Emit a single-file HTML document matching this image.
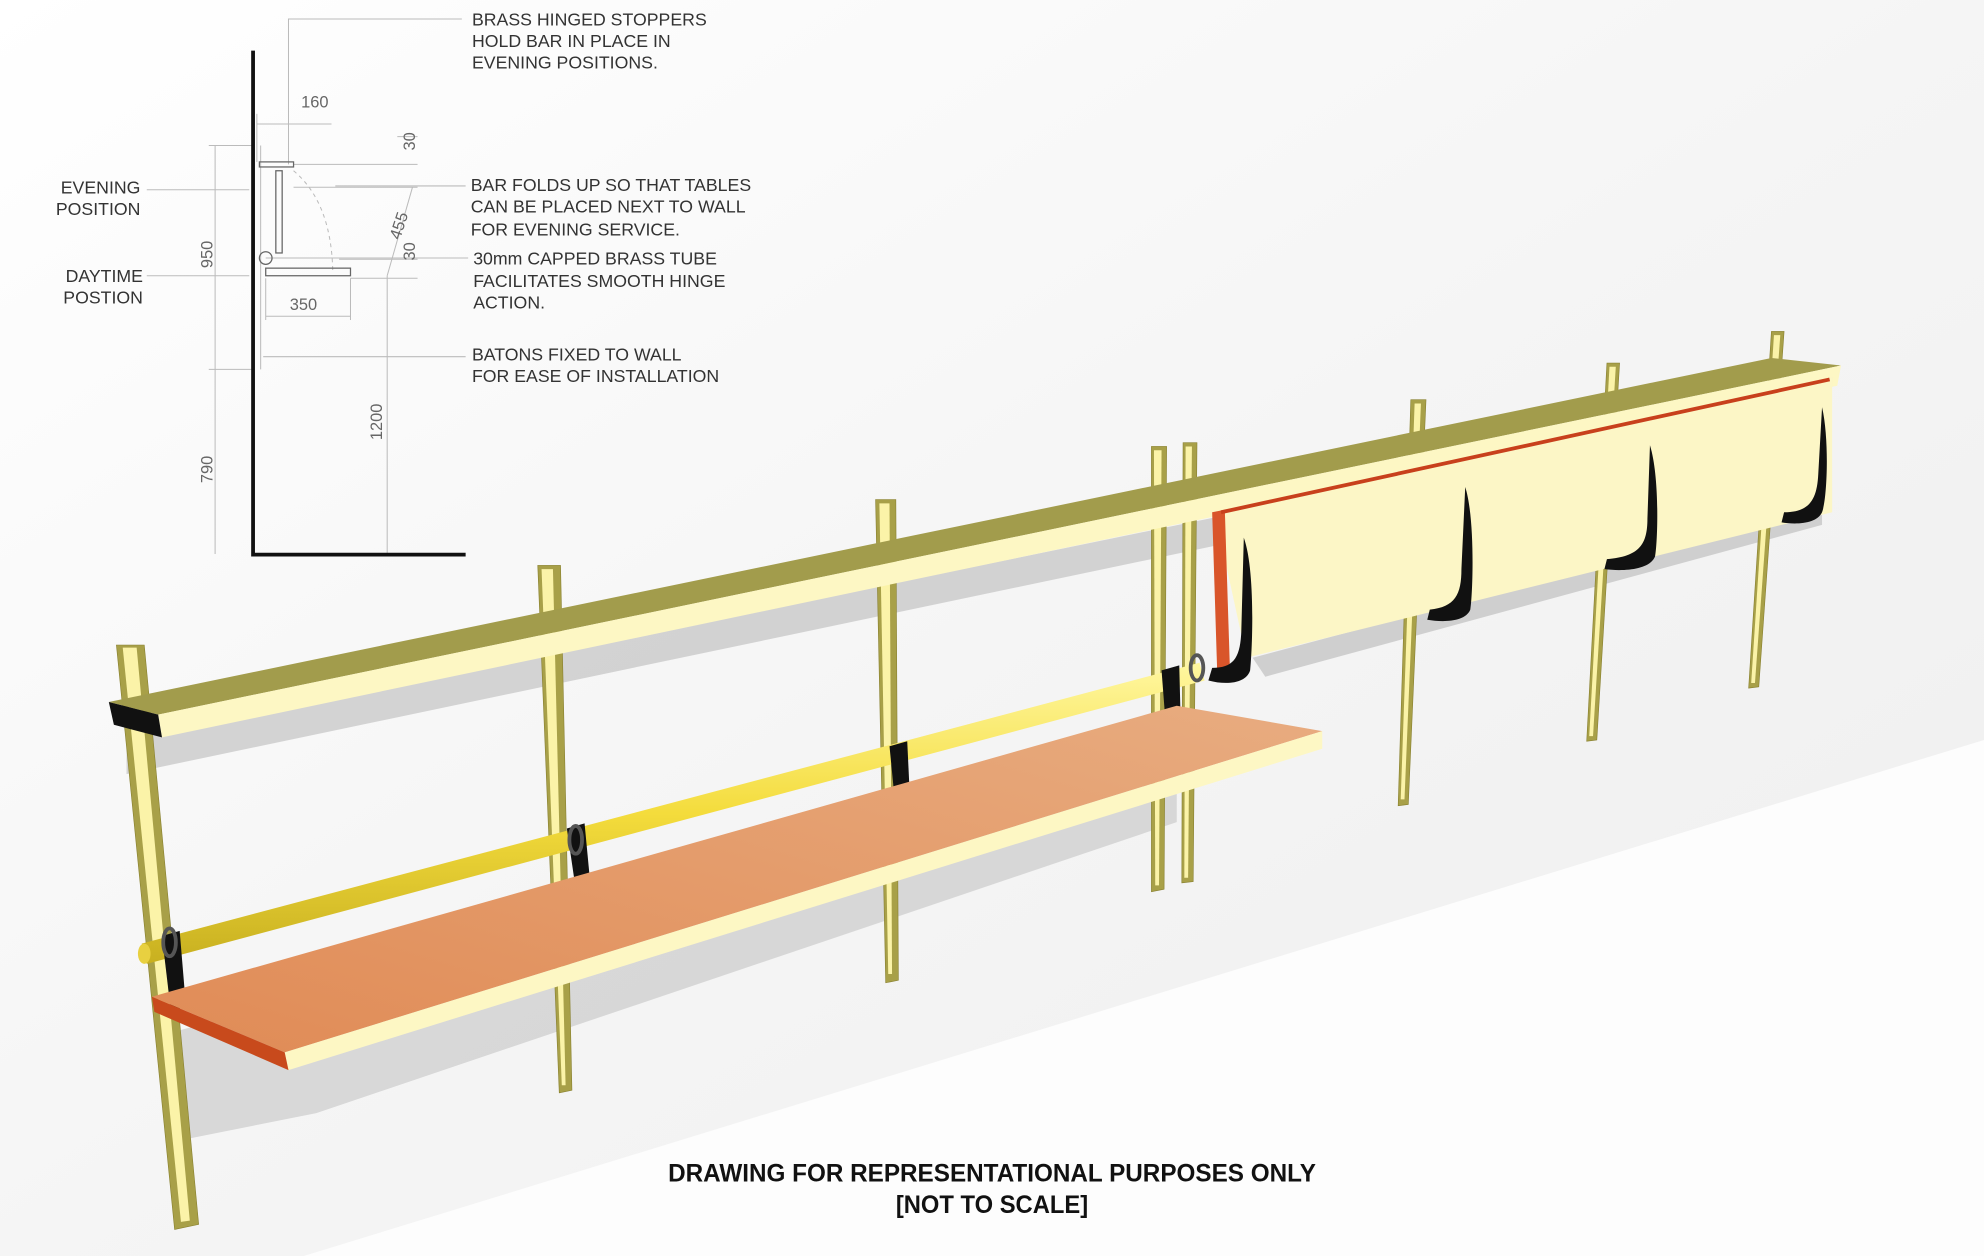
<!DOCTYPE html>
<html><head><meta charset="utf-8"><style>
html,body{margin:0;padding:0;background:#fff;}
svg{display:block;}
text{font-family:"Liberation Sans",sans-serif;}
</style></head><body>
<svg width="1984" height="1256" viewBox="0 0 1568 993" preserveAspectRatio="none" xmlns="http://www.w3.org/2000/svg">
<defs>
<linearGradient id="bg" x1="0" y1="0" x2="1" y2="1">
<stop offset="0" stop-color="#ffffff"/><stop offset="0.5" stop-color="#f5f5f5"/><stop offset="1" stop-color="#eeeeee"/>
</linearGradient>
<linearGradient id="tab" x1="0" y1="1" x2="1" y2="0">
<stop offset="0" stop-color="#e08b56"/><stop offset="1" stop-color="#e8ac80"/>
</linearGradient>
<linearGradient id="tube" x1="0" y1="0" x2="0" y2="1">
<stop offset="0" stop-color="#fff7a0"/><stop offset="0.5" stop-color="#f4dc3c"/><stop offset="1" stop-color="#c8b020"/>
</linearGradient>
</defs>
<rect width="1568" height="993" fill="url(#bg)"/>
<polygon points="240,993 1568,585 1568,993" fill="#fdfdfd"/>
<!-- shadows -->
<polygon points="100,585 1420,315 1420,335 100,612" fill="#c9c9c9" opacity="0.8"/>
<polygon points="140,815 930,612 930,650 250,880 150,900" fill="#cdcdcd" opacity="0.75"/>
<polygon points="990,520 1440,400 1440,415 1000,535" fill="#cfcfcf"/>
<!-- posts -->
<g fill="#a8a048" stroke="#8a8230" stroke-width="0.5">
<polygon points="92,510 114,510 157,968 138,972"/>
<polygon points="425,447 443,447 452,862 442,864"/>
<polygon points="692,395 708,395 710,775 700,777"/>
<polygon points="910,353 922,353 920,703 910,705"/>
<polygon points="935,350 946,350 943,697 934,698"/>
<polygon points="1115,316 1127,316 1113,636 1105,637"/>
<polygon points="1270,287 1280,287 1262,585 1254,586"/>
<polygon points="1400,262 1410,262 1390,543 1382,544"/>
</g>
<g fill="#fbf3a8">
<polygon points="97,512 108,512 150,965 143,966"/>
<polygon points="428,450 437,450 447,858 444,858"/>
<polygon points="695,398 703,398 705,770 702,770"/>
<polygon points="912,356 918,356 916,700 913,700"/>
<polygon points="937,353 942,353 939,694 936,694"/>
<polygon points="1118,319 1123,319 1110,632 1107,632"/>
<polygon points="1272,290 1277,290 1259,582 1256,582"/>
<polygon points="1402,265 1407,265 1387,540 1384,540"/>
</g>
<!-- rail -->
<polygon points="86,555 1400,283 1455,289 125,565" fill="#a29c4c"/>
<polygon points="125,565 1455,289 1452,305 128,583" fill="#fdf7c4"/>
<polygon points="86,555 125,565 128,583 90,573" fill="#111"/>
<!-- panel -->
<polygon points="960,405 1448,298 1448,405 985,520" fill="#fcf6c6"/>
<polygon points="958,405 968,403 972,528 962,532" fill="#d9552a"/>
<line x1="965" y1="405" x2="1446" y2="300" stroke="#c8401c" stroke-width="3"/>
<g fill="#111">
<path d="M983,425 C992,450 990,510 988,530 C985,540 970,542 955,538 L958,528 C975,528 980,520 981,500 Z"/>
<path d="M1158,385 C1166,410 1164,470 1162,482 C1158,492 1140,492 1128,490 L1130,482 C1150,480 1155,470 1155,450 Z"/>
<path d="M1304,352 C1312,378 1310,430 1308,440 C1304,450 1285,452 1268,450 L1270,442 C1296,440 1302,430 1302,410 Z"/>
<path d="M1440,322 C1446,348 1444,395 1440,405 C1436,414 1420,415 1408,413 L1410,405 C1430,405 1436,395 1437,375 Z"/>
</g>
<!-- tube -->
<polygon points="112,746 948,524 952,538 116,762" fill="url(#tube)"/>
<ellipse cx="114" cy="754" rx="5" ry="8" fill="#e8d040"/>
<g fill="#111">
<path d="M128,740 l14,-4 l5,60 l-12,3 z"/>
<ellipse cx="134" cy="745" rx="5" ry="11" fill="none" stroke="#555" stroke-width="3"/>
<path d="M448,655 l14,-4 l4,42 l-12,3 z"/>
<ellipse cx="455" cy="664" rx="5" ry="11" fill="none" stroke="#555" stroke-width="3"/>
<path d="M703,590 l14,-4 l2,42 l-12,3 z"/>
<path d="M918,530 l14,-4 l1,40 l-12,3 z"/>
<ellipse cx="946" cy="528" rx="5" ry="10" fill="none" stroke="#555" stroke-width="3"/>
</g>
<!-- table -->
<polygon points="120,788 930,558 1045,578 225,832" fill="url(#tab)"/>
<polygon points="225,832 1045,578 1045,592 228,846" fill="#fdf7c4"/>
<polygon points="120,788 225,832 228,846 122,800" fill="#c84a1c"/>
<!-- detail drawing -->
<g stroke="#bbb" stroke-width="0.8" fill="none">
<line x1="170" y1="115" x2="170" y2="438"/>
<line x1="165" y1="115" x2="200" y2="115"/>
<line x1="165" y1="292" x2="200" y2="292"/>
<line x1="206" y1="115" x2="206" y2="292"/>
<line x1="203" y1="98" x2="262" y2="98"/>
<line x1="203" y1="90" x2="203" y2="128"/>
<polyline points="228,130 228,15 365,15"/>
<line x1="232" y1="130" x2="330" y2="130"/>
<line x1="232" y1="148" x2="330" y2="148"/>
<line x1="268" y1="205" x2="330" y2="205"/>
<line x1="277" y1="220" x2="330" y2="220"/>
<line x1="306" y1="218" x2="306" y2="438"/>
<line x1="306" y1="218" x2="326" y2="148"/>
<line x1="210" y1="250" x2="277" y2="250"/>
<line x1="210" y1="220" x2="210" y2="253"/>
<line x1="277" y1="220" x2="277" y2="253"/>
<line x1="116" y1="150" x2="197" y2="150"/>
<line x1="116" y1="218" x2="197" y2="218"/>
<line x1="265" y1="147" x2="368" y2="147"/>
<line x1="210" y1="204" x2="370" y2="204"/>
<line x1="208" y1="282" x2="368" y2="282"/>
<line x1="314" y1="108" x2="330" y2="108"/>
<path d="M232,135 Q262,160 263,215" stroke-dasharray="3,3"/>
</g>
<g stroke="#666" stroke-width="1" fill="none">
<rect x="205" y="128" width="27" height="4"/>
<rect x="218" y="135" width="5" height="65"/>
<rect x="210" y="212" width="67" height="6"/>
<circle cx="210" cy="204" r="5"/>
</g>
<line x1="200" y1="40" x2="200" y2="440" stroke="#111" stroke-width="3"/>
<line x1="199" y1="438.5" x2="368" y2="438.5" stroke="#111" stroke-width="3"/>
<g font-size="14" fill="#333">
<text x="373" y="20">BRASS HINGED STOPPERS</text>
<text x="373" y="37">HOLD BAR IN PLACE IN</text>
<text x="373" y="54">EVENING POSITIONS.</text>
<text x="372" y="151">BAR FOLDS UP SO THAT TABLES</text>
<text x="372" y="168">CAN BE PLACED NEXT TO WALL</text>
<text x="372" y="186">FOR EVENING SERVICE.</text>
<text x="374" y="209">30mm CAPPED BRASS TUBE</text>
<text x="374" y="227">FACILITATES SMOOTH HINGE</text>
<text x="374" y="244">ACTION.</text>
<text x="373" y="285">BATONS FIXED TO WALL</text>
<text x="373" y="302">FOR EASE OF INSTALLATION</text>
<text x="111" y="153" text-anchor="end">EVENING</text>
<text x="111" y="170" text-anchor="end">POSITION</text>
<text x="113" y="223" text-anchor="end">DAYTIME</text>
<text x="113" y="240" text-anchor="end">POSTION</text>
</g>
<g font-size="13" fill="#666">
<text x="238" y="85">160</text>
<text x="229" y="245">350</text>
<text transform="translate(328,119) rotate(-90)">30</text>
<text transform="translate(328,206) rotate(-90)">30</text>
<text transform="translate(168,212) rotate(-90)">950</text>
<text transform="translate(168,382) rotate(-90)">790</text>
<text transform="translate(302,348) rotate(-90)">1200</text>
<text transform="translate(316,190) rotate(-72)">455</text>
</g>
<g font-size="20" fill="#111" text-anchor="middle" font-weight="bold">
<text x="784" y="934" textLength="512" lengthAdjust="spacingAndGlyphs">DRAWING FOR REPRESENTATIONAL PURPOSES ONLY</text>
<text x="784" y="959" textLength="152" lengthAdjust="spacingAndGlyphs">[NOT TO SCALE]</text>
</g>
</svg>
</body></html>
